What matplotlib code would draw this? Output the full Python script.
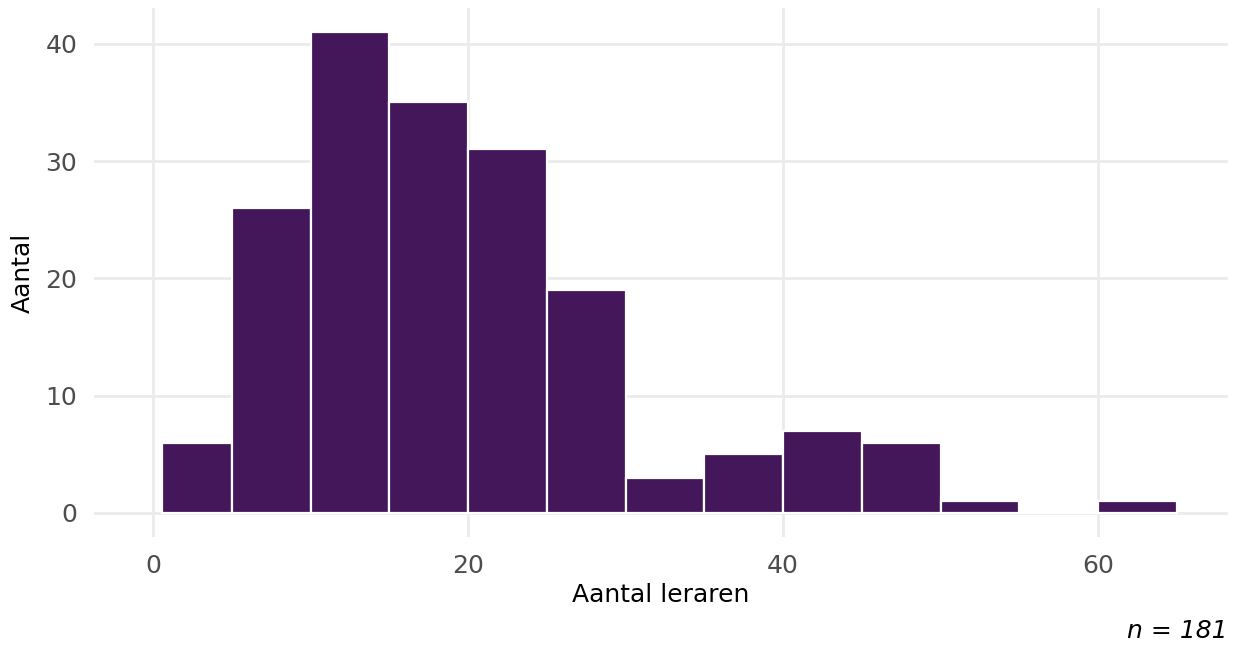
import matplotlib.pyplot as plt

# histogram of number of teachers per school
edges = [0.6, 5, 10, 15, 20, 25, 30, 35, 40, 45, 50, 55, 60, 65]
counts = [6, 26, 41, 35, 31, 19, 3, 5, 7, 6, 1, 0, 1]
xticks = [0, 20, 40, 60]
yticks = [0, 10, 20, 30, 40]

fig = plt.figure(figsize=(12.35, 6.5), dpi=100)
ax = fig.add_axes([0.0761, 0.1738, 0.9182, 0.8139])

lefts = edges[:-1]
widths = [b - a for a, b in zip(edges[:-1], edges[1:])]
ax.bar(lefts, counts, width=widths, align="edge", color="#44165a",
       edgecolor="white", linewidth=1.6, zorder=2)

ax.set_xlim(-3.75, 68.25)
ax.set_ylim(-2.05, 43.05)
ax.set_xticks(xticks)
ax.set_yticks(yticks)
ax.grid(True, color="#ebebeb", linewidth=2.0, zorder=0)
ax.set_axisbelow(True)
for s in ax.spines.values():
    s.set_visible(False)
ax.tick_params(axis="x", length=0, labelsize=18, labelcolor="#4d4d4d", pad=12)
ax.tick_params(axis="y", length=0, labelsize=18, labelcolor="#4d4d4d", pad=12)

ax.set_xlabel("Aantal leraren", fontsize=18, labelpad=4)
ax.set_ylabel("Aantal", fontsize=18, labelpad=8)
fig.text(0.994, 0.01, "n = 181", ha="right", va="bottom", fontsize=18, style="italic")

fig.savefig("out.png", dpi=100)
